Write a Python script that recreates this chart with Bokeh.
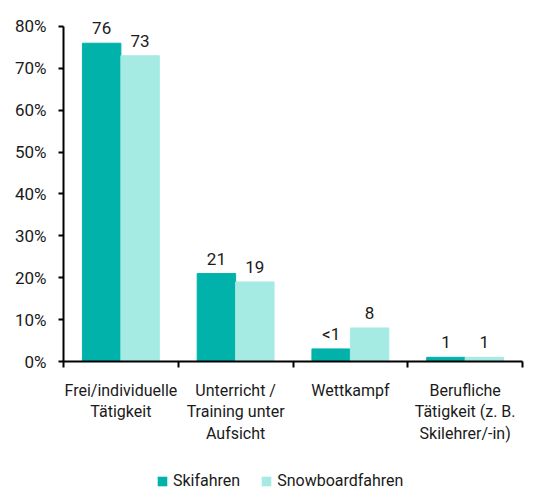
import numpy as np
from bokeh.plotting import figure
from bokeh.layouts import column
from bokeh.models import (ColumnDataSource, FixedTicker, Legend, LegendItem,
                          Range1d)
from bokeh.core.properties import value
from bokeh.embed import file_html
from bokeh.resources import INLINE

categories = ["Frei/individuelle\nTätigkeit",
              "Unterricht /\nTraining unter\nAufsicht",
              "Wettkampf",
              "Berufliche\nTätigkeit (z. B.\nSkilehrer/-in)"]
ski = [76, 21, 3, 1]
ski_labels = ["76", "21", "<1", "1"]
snow = [73, 19, 8, 1]
snow_labels = ["73", "19", "8", "1"]
series_names = ["Skifahren", "Snowboardfahren"]
y_ticks = [0, 10, 20, 30, 40, 50, 60, 70, 80]

SKI_COLOR = "#00b2a9"
SNOW_COLOR = "#a6eae4"
FONT = "Roboto"
TXT = "#1a1a1a"

centers = np.arange(len(categories)) + 0.5
bw = 0.335

src_ski = ColumnDataSource(dict(x=centers - bw / 2, top=ski, lab=ski_labels))
src_snow = ColumnDataSource(dict(x=centers + bw / 2, top=snow, lab=snow_labels))

p = figure(width=533, height=472, output_backend="svg", toolbar_location=None,
           x_range=Range1d(0, len(categories)), y_range=Range1d(0, 86.2),
           min_border_left=63, min_border_right=11, min_border_top=0,
           min_border_bottom=111)
p.outline_line_color = None
p.grid.visible = False
p.background_fill_color = "white"
p.border_fill_color = "white"

r_ski = p.vbar(x="x", top="top", width=bw, source=src_ski, color=SKI_COLOR)
r_snow = p.vbar(x="x", top="top", width=bw, source=src_snow, color=SNOW_COLOR)

for s in (src_ski, src_snow):
    p.text(x="x", y="top", text="lab", source=s, text_align="center",
           text_baseline="alphabetic", y_offset=-15, text_font=value(FONT),
           text_font_size="17px", text_color=TXT)

# y axis
ya = p.yaxis[0]
ya.ticker = FixedTicker(ticks=y_ticks)
ya.major_label_overrides = {t: f"{t}%" for t in y_ticks}
ya.bounds = (0, 80)
ya.axis_line_color = "black"
ya.axis_line_width = 2
ya.major_tick_out = 5
ya.major_tick_in = 0
ya.major_tick_line_width = 2
ya.minor_tick_line_color = None
ya.major_label_text_font = FONT
ya.major_label_text_font_size = "17px"
ya.major_label_text_color = TXT
ya.major_label_standoff = 12

# x axis
xa = p.xaxis[0]
xa.ticker = FixedTicker(ticks=list(centers), minor_ticks=list(range(len(categories) + 1)))
xa.major_label_overrides = {float(c): lab for c, lab in zip(centers, categories)}
xa.axis_line_color = "black"
xa.axis_line_width = 2
xa.major_tick_line_color = None
xa.major_tick_out = 6
xa.major_tick_in = 0
xa.minor_tick_out = 6
xa.minor_tick_in = 0
xa.minor_tick_line_width = 2
xa.minor_tick_line_color = "black"
xa.major_label_text_font = FONT
xa.major_label_text_font_size = "16px"
xa.major_label_text_color = TXT
xa.major_label_standoff = 13
xa.major_label_text_line_height = 1.15

# legend in a separate strip below the chart (its bars lie outside its ranges)
lf = figure(width=533, height=21, output_backend="svg", toolbar_location=None,
            x_range=Range1d(100, 104), y_range=Range1d(1000, 1010),
            x_axis_location=None, y_axis_location=None, min_border=0)
lf.outline_line_color = None
lf.grid.visible = False
lf.background_fill_color = "white"
lf.border_fill_color = "white"
l_ski = lf.vbar(x="x", top="top", width=bw, source=src_ski,
                fill_color=SKI_COLOR, line_color=None)
l_snow = lf.vbar(x="x", top="top", width=bw, source=src_snow,
                 fill_color=SNOW_COLOR, line_color=None)

legend = Legend(items=[LegendItem(label=series_names[0], renderers=[l_ski]),
                       LegendItem(label=series_names[1], renderers=[l_snow])],
                orientation="horizontal", location=(93, 3),
                glyph_width=12, glyph_height=12, label_standoff=5, spacing=20,
                label_text_font=FONT, label_text_font_size="16px",
                label_text_color=TXT, border_line_color=None,
                background_fill_alpha=0, padding=0, margin=0,
                label_height=14)
lf.add_layout(legend, "center")

layout = column(p, lf, spacing=0)
open("out.html", "w").write(file_html(layout, INLINE))
